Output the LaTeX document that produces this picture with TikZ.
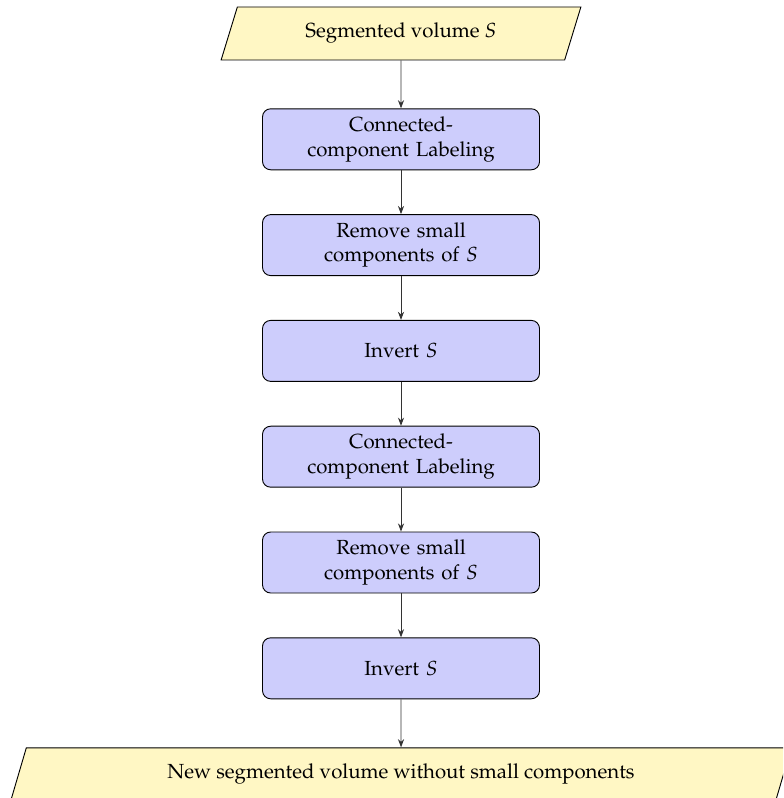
\documentclass[tikz,border=0pt]{standalone}
\usepackage[T1]{fontenc}
\usepackage{mathpazo}
\usetikzlibrary{shapes.geometric,arrows.meta}
\definecolor{ioyellow}{RGB}{255,247,196}
\definecolor{procblue}{RGB}{205,205,252}
\def\pxu{0.49}
\tikzset{
  iobox/.style={trapezium, trapezium left angle=71, trapezium right angle=109,
    trapezium stretches=true, draw=black, fill=ioyellow, line width=0.45pt,
    minimum height=53*\pxu pt, inner sep=2pt},
  procbox/.style={rectangle, rounded corners=4pt, draw=black, fill=procblue,
    line width=0.45pt, minimum width=277*\pxu pt, minimum height=61*\pxu pt,
    text width=120pt, align=center, inner sep=2pt},
  flow/.style={draw=black!80, line width=0.4pt, -{Stealth[length=4pt,width=3pt]}}
}
\begin{document}
\begin{tikzpicture}[x=\pxu pt,y=-\pxu pt]
\useasboundingbox (0,0) rectangle (783,798);
\clip (0,0) rectangle (783,798);
\node[iobox, minimum width=360*\pxu pt] (in) at (401,33.5) {Segmented volume $S$};
\node[procbox] (b1) at (401,139.3) {Connected-\\component Labeling};
\node[procbox] (b2) at (401,245.1) {Remove small\\components of $S$};
\node[procbox] (b3) at (401,350.9) {Invert $S$};
\node[procbox] (b4) at (401,456.7) {Connected-\\component Labeling};
\node[procbox] (b5) at (401,562.5) {Remove small\\components of $S$};
\node[procbox] (b6) at (401,668.3) {Invert $S$};
\node[iobox, minimum width=781*\pxu pt] (out) at (401,774.3) {New segmented volume without small components};
\draw[flow] (in.south) -- (b1.north);
\draw[flow] (b1.south) -- (b2.north);
\draw[flow] (b2.south) -- (b3.north);
\draw[flow] (b3.south) -- (b4.north);
\draw[flow] (b4.south) -- (b5.north);
\draw[flow] (b5.south) -- (b6.north);
\draw[flow] (b6.south) -- (out.north);
\end{tikzpicture}
\end{document}
